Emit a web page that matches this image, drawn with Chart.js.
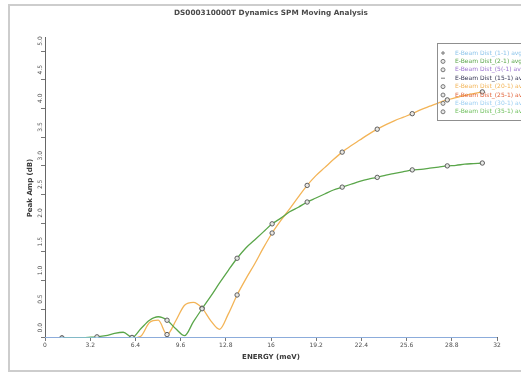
<!DOCTYPE html>
<html>
<head>
<meta charset="utf-8">
<script src="https://cdn.jsdelivr.net/npm/chart.js@4.4.1/dist/chart.umd.min.js"></script>
<style>
  html, body { margin: 0; padding: 0; background: #ffffff; }
  body { width: 521px; height: 374px; position: relative; overflow: hidden; }
  #frame { position: absolute; left: 8px; top: 4px; width: 520px; height: 368px;
           border: 2px solid #cdcdcd; box-sizing: border-box; }
  #wrap { position: absolute; left: 0; top: 0; width: 521px; height: 374px; }
</style>
</head>
<body>
<div id="frame"></div>
<div id="wrap"><canvas id="chart" width="521" height="374"></canvas></div>
<script>
// Energy sample positions (meV)
const energies = [
  1.20, 1.82, 2.44, 3.06, 3.68, 4.30, 4.92, 5.54, 6.16, 6.78,
  7.40, 8.02, 8.64, 9.26, 9.88, 10.50, 11.12, 11.74, 12.36, 12.98,
  13.60, 14.22, 14.84, 15.46, 16.08, 16.70, 17.32, 17.94, 18.56, 19.18,
  19.80, 20.42, 21.04, 21.66, 22.28, 22.90, 23.52, 24.14, 24.76, 25.38,
  26.00, 26.62, 27.24, 27.86, 28.48, 29.10, 29.72, 30.34, 30.96
];

// Peak amplitude, beam distance 2-1
const dist21 = [
  0, 0, 0, 0.01, 0.02, 0.04, 0.08, 0.10, 0.01, 0.16,
  0.31, 0.37, 0.31, 0.16, 0.04, 0.28, 0.51, 0.73, 0.96, 1.18,
  1.39, 1.57, 1.71, 1.85, 1.99, 2.09, 2.20, 2.28, 2.37, 2.44,
  2.51, 2.58, 2.63, 2.68, 2.73, 2.77, 2.80, 2.84, 2.87, 2.90,
  2.93, 2.94, 2.96, 2.98, 3.00, 3.01, 3.03, 3.04, 3.05
];

// Peak amplitude, beam distance 20-1
const dist201 = [
  0, 0, 0, 0, 0, 0, 0, 0, 0, 0.03,
  0.27, 0.31, 0.06, 0.30, 0.57, 0.62, 0.52, 0.30, 0.15, 0.42,
  0.75, 1.03, 1.29, 1.57, 1.83, 2.05, 2.25, 2.46, 2.66, 2.83,
  2.97, 3.11, 3.24, 3.35, 3.45, 3.55, 3.64, 3.72, 3.79, 3.85,
  3.91, 3.98, 4.04, 4.10, 4.15, 4.19, 4.23, 4.26, 4.29
];

// Channels that stay at zero over the whole sweep
const flatEnergies = [0, 32];
const flatAmp = [0, 0];

const seriesNames = [
  'E-Beam Dist_(1-1) avg', 'E-Beam Dist_(2-1) avg', 'E-Beam Dist_(5(-1) avg', 'E-Beam Dist_(15-1) avg',
  'E-Beam Dist_(20-1) avg', 'E-Beam Dist_(25-1) avg', 'E-Beam Dist_(30-1) avg', 'E-Beam Dist_(35-1) avg'
];
const seriesColors = ['#8cc4ea', '#5aa64a', '#9b72cf', '#2f2f4f', '#f3b457', '#e2643a', '#9ccff2', '#6cbf5a'];
const seriesMarkers = ['cross', 'circle', 'circle', 'line', 'circle', 'circle', 'circle', 'circle'];

const chartTitle = 'DS000310000T Dynamics SPM Moving Analysis';
const xTitle = 'ENERGY (meV)';
const yTitle = 'Peak Amp (dB)';

const pairs = (xs, ys) => xs.map((x, i) => ({ x: x, y: ys[i] }));
const seriesData = [
  pairs(flatEnergies, flatAmp), pairs(energies, dist21), pairs(flatEnergies, flatAmp), pairs(flatEnergies, flatAmp),
  pairs(energies, dist201), pairs(flatEnergies, flatAmp), pairs(flatEnergies, flatAmp), pairs(flatEnergies, flatAmp)
];

// markers every fourth sample on the measured curves
const markerRadius = ctx => (ctx.dataset.data.length > 2 && ctx.dataIndex % 4 === 0) ? 2.2 : 0;

const datasets = seriesNames.map((name, i) => ({
  label: name,
  data: seriesData[i],
  borderColor: seriesColors[i],
  backgroundColor: 'rgba(255,255,255,0.6)',
  pointBorderColor: '#5b5b5b',
  pointBackgroundColor: 'rgba(235,235,235,0.9)',
  pointBorderWidth: 1,
  pointStyle: seriesMarkers[i],
  pointRadius: markerRadius,
  borderWidth: 1.3,
  cubicInterpolationMode: 'monotone',
  fill: false
}));

// Boxed legend inside the plot, top right
const boxLegend = {
  id: 'boxLegend',
  afterDraw(chart, args, o) {
    const ctx = chart.ctx;
    ctx.save();
    ctx.strokeStyle = '#8f8f8f';
    ctx.lineWidth = 1;
    ctx.strokeRect(o.left + 0.5, o.top + 0.5, o.width, o.height);
    ctx.font = '6px "DejaVu Sans"';
    ctx.textBaseline = 'middle';
    chart.data.datasets.forEach((ds, i) => {
      const y = o.top + o.firstRow + i * o.rowGap;
      ctx.strokeStyle = '#777777';
      ctx.fillStyle = 'rgba(230,230,230,0.9)';
      ctx.lineWidth = 1;
      Chart.helpers.drawPoint(ctx, { pointStyle: ds.pointStyle, radius: 2, borderWidth: 1, rotation: 0 }, o.left + 6, y);
      ctx.fillStyle = ds.borderColor;
      ctx.fillText(ds.label, o.left + 18, y);
    });
    ctx.restore();
  }
};

new Chart(document.getElementById('chart'), {
  type: 'line',
  data: { datasets: datasets },
  plugins: [boxLegend],
  options: {
    responsive: false,
    animation: false,
    devicePixelRatio: 1,
    layout: { padding: { left: 15, right: 24, top: 0, bottom: 6 } },
    plugins: {
      legend: { display: false },
      tooltip: { enabled: false },
      title: {
        display: true,
        text: chartTitle,
        fullSize: false,
        color: '#4a4a4a',
        font: { family: 'DejaVu Sans', size: 7.3, weight: 'bold' },
        padding: { top: 8.6, bottom: 20.6 }
      },
      boxLegend: { left: 437, top: 43, width: 100, height: 77, firstRow: 10, rowGap: 8.4 }
    },
    scales: {
      x: {
        type: 'linear',
        min: 0,
        max: 32,
        afterFit: s => { s.height = 30; },
        border: { display: true, color: '#666666', width: 1 },
        grid: { display: true, drawOnChartArea: false, drawTicks: true, tickLength: 3, color: '#777777' },
        ticks: {
          stepSize: 3.2,
          autoSkip: false,
          maxRotation: 0,
          padding: 1,
          color: '#4d4d4d',
          font: { family: 'DejaVu Sans', size: 6 },
          callback: v => String(Math.round(v * 10) / 10)
        },
        title: {
          display: true,
          text: xTitle,
          color: '#3a3a3a',
          font: { family: 'DejaVu Sans', size: 7, weight: 'bold' },
          padding: { top: 0, bottom: 6.8 }
        }
      },
      y: {
        type: 'linear',
        min: 0,
        max: 5.23,
        afterFit: s => { s.width = 30; },
        border: { display: true, color: '#666666', width: 1 },
        grid: { display: true, drawOnChartArea: false, drawTicks: true, tickLength: 4, color: '#777777' },
        ticks: {
          stepSize: 0.5,
          includeBounds: false,
          minRotation: 90,
          maxRotation: 90,
          labelOffset: -15,
          padding: 1,
          color: '#4d4d4d',
          font: { family: 'DejaVu Sans', size: 6 },
          callback: v => v.toFixed(1)
        },
        title: {
          display: true,
          text: yTitle,
          color: '#3a3a3a',
          font: { family: 'DejaVu Sans', size: 7, weight: 'bold' },
          padding: { top: 11.3, bottom: 0 }
        }
      }
    }
  }
});
</script>
</body>
</html>
